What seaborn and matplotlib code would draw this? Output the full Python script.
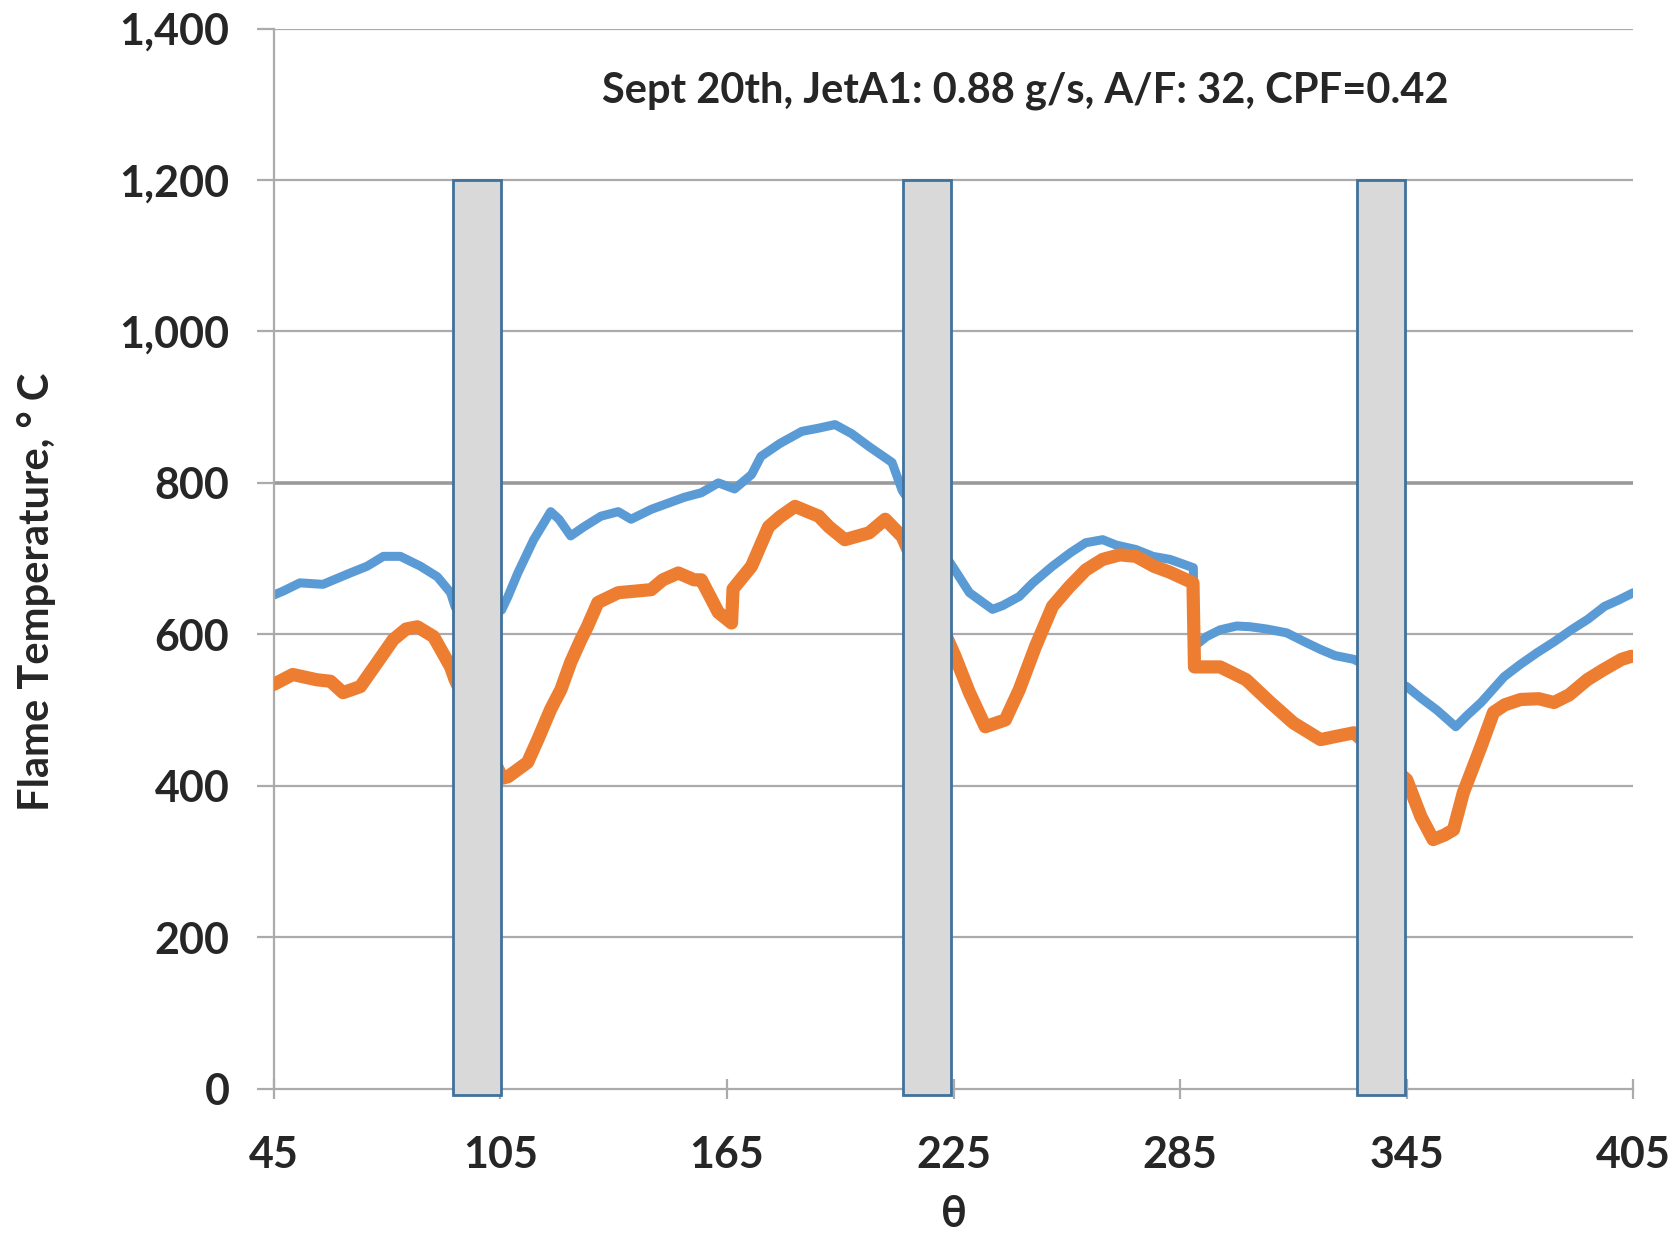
import pandas as pd
import numpy as np
import matplotlib.pyplot as plt
import seaborn as sns

sns.set_theme(style="white")
plt.rcParams['font.family'] = ['Lato', 'DejaVu Sans']

# Dados (theta em graus, temperatura em °C).

blue_theta = [45, 47.4, 51.9, 58, 65.2, 69.7, 74, 78.5, 83.8, 88.3, 91.8, 93,
              105.3, 107, 109.6, 113.8, 118.3, 120.5, 123.6, 127.1, 131.6, 136.2, 139.6, 144.9,
              153.7, 158.2, 162.7, 167, 171.5, 174, 179, 184.8, 189, 193.6, 198, 202.6, 208.7, 211.4,
              225.2, 229.2, 235.3, 238, 242.4, 246, 251.2, 256, 260, 264.5, 268, 273.3, 277.8,
              282.3, 288.5, 288.7, 292, 295.6, 300, 303.6, 308, 313.2, 318, 322.2, 326, 331,
              345, 349, 353, 358, 361, 364.7, 370.8, 375, 379.6, 384, 388.6, 393, 397.4, 401, 405]
blue_temp = [652, 657, 668, 666, 681, 690, 703, 703, 690, 676, 655, 636,
             632, 650, 681, 725, 762, 752, 730, 742, 756, 762, 752, 765,
             781, 787, 800, 792, 811, 835, 852, 868, 872, 877, 865, 848, 827, 790,
             686, 655, 633, 638, 650, 668, 690, 708, 721, 725, 718, 712, 703,
             699, 688, 584, 597, 606, 611, 610, 607, 602, 590, 580, 572, 567,
             531, 515, 500, 478, 493, 510, 544, 560, 576, 590, 606, 620, 637, 645, 655]

orange_theta = [45, 50, 56.4, 60, 63.3, 67.9, 72.4, 76.6, 80, 83, 87.3, 91.8, 93,
                105.5, 107, 112.2, 114.9, 118.3, 121, 123.6, 126.3, 128, 130.8, 136.2, 144.9,
                148, 152.1, 156.3, 158.2, 162.7, 166.2, 166.6, 171.5, 176, 179, 183, 189.3, 192,
                196.2, 202.6, 206.9, 211.4,
                225.4, 229.2, 233.4, 238.7, 242.4, 246.7, 251.2, 255.7, 260, 264.5, 269, 273.3,
                278, 282.3, 288.4, 288.8, 295.6, 302.5, 308.9, 315, 322.2, 326, 331,
                345, 348.8, 352, 355, 357.4, 360, 364.7, 368, 371, 375.2, 380, 384, 388,
                392.8, 397, 401.9, 404.5]
orange_temp = [534, 547, 540, 538, 523, 531, 563, 593, 607, 610, 597, 557, 540,
               410, 412, 431, 461, 501, 527, 563, 593, 610, 642, 655, 659,
               672, 681, 672, 672, 629, 615, 660, 690, 742, 755, 769, 756, 742,
               725, 734, 752, 729,
               571, 523, 478, 487, 527, 584, 637, 663, 685, 699, 705, 703,
               690, 682, 668, 557, 557, 540, 510, 483, 461, 465, 470,
               408, 359, 329, 335, 342, 391, 452, 497, 507, 514, 515, 510, 520,
               540, 553, 567, 571]

# Faixas cinzas (posição central, largura e altura).

faixa_centros = [98.9, 218.0, 338.1]
faixa_largura = 12.7
faixa_topo = 1200

titulo = 'Sept 20th, JetA1: 0.88 g/s, A/F: 32, CPF=0.42'

fig = plt.figure(figsize=(16.7, 12.4), dpi=100)
ax = fig.add_axes([0.164, 0.122, 0.814, 0.855])

# Grade horizontal.
for yv in range(200, 1401, 200):
    cor = '#9A9A9A' if yv == 800 else '#ABABAB'
    lw = 2.6 if yv == 800 else 1.6
    ax.axhline(yv, color=cor, lw=lw, zorder=0)

sns.lineplot(x=blue_theta, y=blue_temp, estimator=None, sort=False,
             color='#5B9BD5', linewidth=6.5, ax=ax, zorder=2)
sns.lineplot(x=orange_theta, y=orange_temp, estimator=None, sort=False,
             color='#ED7D31', linewidth=9.5, ax=ax, zorder=3)

ax.bar(faixa_centros, [faixa_topo + 8] * 3, width=faixa_largura, bottom=-8,
       color='#D9D9D9', edgecolor='#41719C', linewidth=2, zorder=5, clip_on=False)

ax.set_xlim(45, 405)
ax.set_ylim(0, 1400)
ax.set_xticks(range(45, 406, 60))
ax.set_yticks(range(0, 1401, 200))
ax.set_yticklabels([f'{v:,}' for v in range(0, 1401, 200)])

for s in ['top', 'right']:
    ax.spines[s].set_visible(False)
ax.spines['left'].set_color('#ABABAB')
ax.spines['left'].set_linewidth(1.6)
ax.spines['bottom'].set_color('#ABABAB')
ax.spines['bottom'].set_linewidth(1.6)
ax.spines['bottom'].set_zorder(4)

ax.tick_params(axis='x', bottom=True, length=14, width=1.6, color='#ABABAB',
               direction='inout', pad=26, labelsize=31)
ax.tick_params(axis='y', left=True, length=12, width=1.6, color='#ABABAB',
               direction='out', pad=20, labelsize=31)
for lab in ax.get_xticklabels() + ax.get_yticklabels():
    lab.set_fontweight('bold')

ax.set_xlabel('θ', fontsize=31, fontweight='bold', labelpad=14)
ax.set_ylabel('Flame Temperature, ° C', fontsize=30, fontweight='bold')
ax.yaxis.set_label_coords(-0.160, 0.469)

ax.text(244, 1318, titulo, ha='center', va='center', fontsize=30, fontweight='bold')

fig.savefig('out.png', dpi=100)
